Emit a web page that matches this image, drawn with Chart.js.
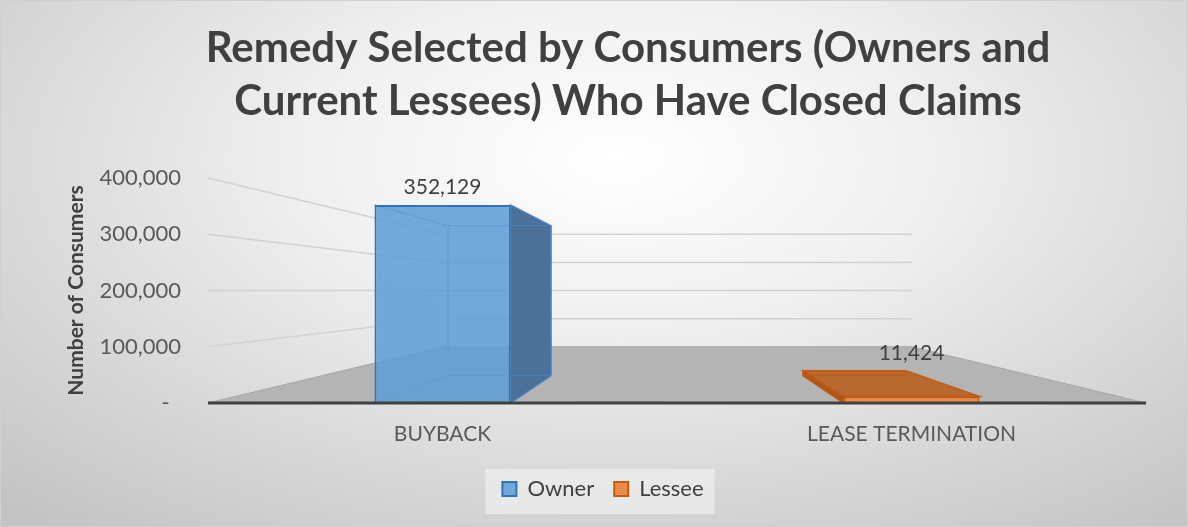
<!DOCTYPE html>
<html>
<head>
<meta charset="utf-8">
<script src="https://cdn.jsdelivr.net/npm/chart.js@4"></script>
<style>
  html, body { margin: 0; padding: 0; }
  #wrap {
    width: 1188px; height: 527px; position: relative; box-sizing: border-box;
    border: 1px solid #d0d0d0;
    background: radial-gradient(ellipse 75% 90% at 52% 30%, #ffffff 0%, #f0f0f0 35%, #d8d8d8 70%, #c4c4c4 100%);
  }
</style>
</head>
<body>
<div id="wrap"><canvas id="myChart"></canvas></div>
<script>
// chart data
var categories = ['BUYBACK', 'LEASE TERMINATION'];
var ownerValues = [352129, null];
var lesseeValues = [null, 11424];
var yTicks = [0, 100000, 200000, 300000, 400000];
var titleLines = ['Remedy Selected by Consumers (Owners and', 'Current Lessees) Who Have Closed Claims'];

Chart.defaults.font.family = 'Lato';
Chart.defaults.color = '#595959';

// simple perspective helper, vanishing point in middle of plot
function proj(vp, x, y, s) {
  return [vp[0] + (x - vp[0]) * s, vp[1] + (y - vp[1]) * s];
}

var sideColors = ['#4b7198', '#a9561f'];
var topColors = ['#5f93c6', '#b7692f'];
var edgeColors = ['rgba(70,130,195,0.9)', '#c55a11'];

var fakeThreeD = {
  id: 'fakeThreeD',
  beforeDraw: function(chart) {
    var ctx = chart.ctx;
    // legend background box
    var hb = chart.legend.legendHitBoxes;
    if (hb && hb.length) {
      var first = hb[0], last = hb[hb.length - 1];
      ctx.save();
      ctx.fillStyle = 'rgba(238,238,238,0.75)';
      ctx.fillRect(first.left - 17, first.top - 9, last.left + last.width - first.left + 28, first.height + 23);
      ctx.restore();
    }
    // title
    ctx.save();
    ctx.fillStyle = '#404040';
    ctx.font = 'bold 42px Lato';
    ctx.textAlign = 'center';
    ctx.textBaseline = 'middle';
    ctx.fillText(titleLines[0], 627, 47);
    ctx.fillText(titleLines[1], 627, 100);
    ctx.restore();
  },
  beforeDatasetsDraw: function(chart) {
    var ctx = chart.ctx, a = chart.chartArea, y = chart.scales.y;
    var vp = [(a.left + a.right) / 2, (a.top + a.bottom) / 2];
    ctx.save();
    // floor
    var p1 = proj(vp, a.left, a.bottom, 0.5), p2 = proj(vp, a.right, a.bottom, 0.5);
    ctx.fillStyle = '#b4b4b4';
    ctx.beginPath();
    ctx.moveTo(a.left, a.bottom);
    ctx.lineTo(a.right, a.bottom);
    ctx.lineTo(p2[0], p2[1]);
    ctx.lineTo(p1[0], p1[1]);
    ctx.closePath();
    ctx.fill();
    ctx.strokeStyle = '#a6a6a6';
    ctx.lineWidth = 1;
    ctx.stroke();
    // walls gridlines
    ctx.strokeStyle = '#d2d2d2';
    ctx.lineWidth = 1.5;
    yTicks.forEach(function(v) {
      if (v === 0) return;
      var py = y.getPixelForValue(v);
      var b1 = proj(vp, a.left, py, 0.5), b2 = proj(vp, a.right, py, 0.5);
      ctx.beginPath();
      ctx.moveTo(a.left, py);
      ctx.lineTo(b1[0], b1[1]);
      ctx.lineTo(b2[0], b2[1]);
      ctx.stroke();
    });
    // bar depth
    var s = 0.757;
    chart.data.datasets.forEach(function(ds, di) {
      chart.getDatasetMeta(di).data.forEach(function(el, j) {
        if (ds.data[j] == null) return;
        var L = el.x - el.width / 2, R = el.x + el.width / 2, T = el.y, B = el.base;
        var bLT = proj(vp, L, T, s), bRT = proj(vp, R, T, s);
        var bLB = proj(vp, L, B, s), bRB = proj(vp, R, B, s);
        // visible top face
        if (T > vp[1]) {
          ctx.fillStyle = topColors[di];
          ctx.beginPath();
          ctx.moveTo(L, T); ctx.lineTo(R, T); ctx.lineTo(bRT[0], bRT[1]); ctx.lineTo(bLT[0], bLT[1]);
          ctx.closePath(); ctx.fill();
          ctx.strokeStyle = edgeColors[di]; ctx.lineWidth = 1.5; ctx.stroke();
        }
        // side face
        ctx.fillStyle = sideColors[di];
        ctx.beginPath();
        if (el.x < vp[0]) {
          ctx.moveTo(R, T); ctx.lineTo(bRT[0], bRT[1]); ctx.lineTo(bRB[0], bRB[1]); ctx.lineTo(R, B);
        } else {
          ctx.moveTo(L, T); ctx.lineTo(bLT[0], bLT[1]); ctx.lineTo(bLB[0], bLB[1]); ctx.lineTo(L, B);
        }
        ctx.closePath(); ctx.fill();
        ctx.strokeStyle = edgeColors[di]; ctx.lineWidth = 1.5; ctx.stroke();
        // hidden back edges
        ctx.strokeStyle = edgeColors[di]; ctx.lineWidth = 1;
        ctx.beginPath();
        ctx.moveTo(bLT[0], bLT[1]); ctx.lineTo(bRT[0], bRT[1]); ctx.lineTo(bRB[0], bRB[1]);
        ctx.lineTo(bLB[0], bLB[1]); ctx.closePath();
        ctx.moveTo(L, T); ctx.lineTo(bLT[0], bLT[1]);
        ctx.moveTo(L, B); ctx.lineTo(bLB[0], bLB[1]);
        ctx.stroke();
      });
    });
    ctx.restore();
  },
  afterDatasetsDraw: function(chart) {
    var ctx = chart.ctx, a = chart.chartArea;
    var vp = [(a.left + a.right) / 2, (a.top + a.bottom) / 2];
    ctx.save();
    // front edge of floor
    ctx.strokeStyle = '#404040';
    ctx.lineWidth = 3;
    ctx.beginPath(); ctx.moveTo(a.left, a.bottom); ctx.lineTo(a.right, a.bottom); ctx.stroke();
    // value labels
    ctx.fillStyle = '#404040';
    ctx.font = '21px Lato';
    ctx.textAlign = 'center';
    ctx.textBaseline = 'middle';
    chart.data.datasets.forEach(function(ds, di) {
      chart.getDatasetMeta(di).data.forEach(function(el, j) {
        var v = ds.data[j];
        if (v == null) return;
        var bt = proj(vp, el.x, el.y, 0.757)[1];
        ctx.fillText(v.toLocaleString('en-US'), el.x, Math.min(el.y, bt) - 18);
      });
    });
    ctx.restore();
  }
};

var ctx = document.getElementById('myChart').getContext('2d');
var chartOne = new Chart(ctx, {
  type: 'bar',
  data: {
    labels: categories,
    datasets: [{
      label: 'Owner',
      data: ownerValues,
      backgroundColor: 'rgba(96,158,214,0.88)',
      borderColor: '#2e75b6',
      borderWidth: 2
    }, {
      label: 'Lessee',
      data: lesseeValues,
      backgroundColor: '#ec8a4c',
      borderColor: '#c55a11',
      borderWidth: 2
    }]
  },
  options: {
    responsive: true,
    maintainAspectRatio: false,
    animation: false,
    layout: { padding: { top: 177, left: 59, right: 41, bottom: 16 } },
    datasets: { bar: { skipNull: true, categoryPercentage: 1, barPercentage: 0.29 } },
    scales: {
      x: {
        grid: { display: false },
        border: { display: false },
        ticks: { padding: 11, font: { size: 21 }, color: '#595959' },
        afterFit: function(scale) { scale.height = 55; }
      },
      y: {
        min: 0,
        max: 400000,
        afterBuildTicks: function(scale) {
          scale.ticks = yTicks.map(function(v) { return { value: v }; });
        },
        grid: { display: false },
        border: { display: false },
        ticks: {
          padding: 19,
          font: { size: 22 },
          color: '#595959',
          callback: function(v) { return v === 0 ? '-  ' : v.toLocaleString('en-US'); }
        },
        title: {
          display: true,
          text: 'Number of Consumers',
          color: '#404040',
          font: { size: 21, weight: 'bold' }
        },
        afterFit: function(scale) { scale.width = 148; }
      }
    },
    plugins: {
      title: { display: false },
      tooltip: { enabled: false },
      legend: {
        position: 'bottom',
        labels: { boxWidth: 14, boxHeight: 14, padding: 20, color: '#404040', font: { size: 22 } }
      }
    }
  },
  plugins: [fakeThreeD]
});
</script>
</body>
</html>
